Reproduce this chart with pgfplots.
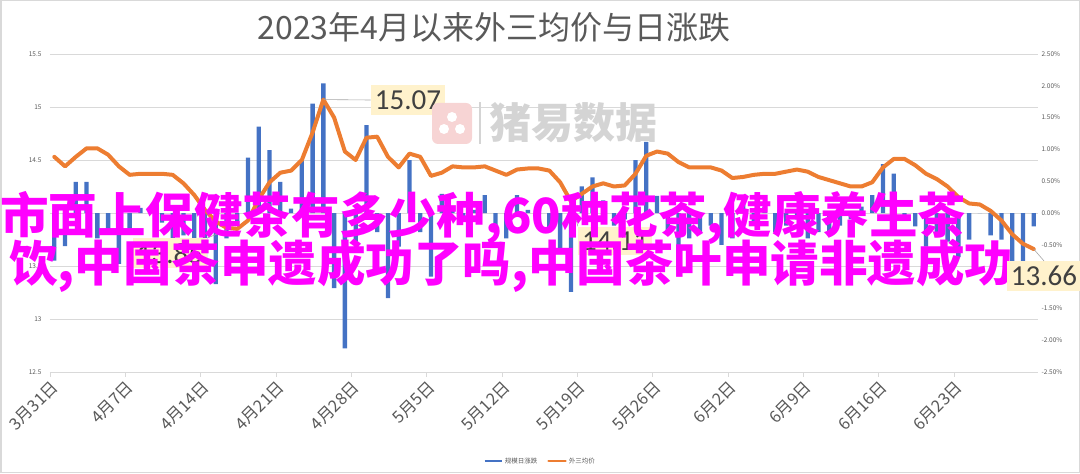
\documentclass[border=0pt]{standalone}
\usepackage{fontspec}
\usepackage{pgfplots}
\usepackage{pgfplotstable}
\pgfplotsset{compat=1.18}
\setmainfont{Noto Sans CJK SC}
\newfontfamily\numfont{Carlito}
\definecolor{barblue}{HTML}{4472C4}
\definecolor{lineorange}{HTML}{ED7D31}
\definecolor{gridgray}{HTML}{D9D9D9}
\definecolor{labelgray}{HTML}{595959}
\definecolor{boxfill}{HTML}{FFF2CC}
\definecolor{magentatxt}{HTML}{FF00FF}
\definecolor{wmgray}{HTML}{D4D4D4}
\definecolor{wmpink}{HTML}{F7D4D4}

\pgfplotstableread{
d v
0 14.53
1 14.44
2 14.53
3 14.61
4 14.61
5 14.55
6 14.44
7 14.36
8 14.37
9 14.37
10 14.37
11 14.36
12 14.28
13 14.17
14 14.03
15 13.92
16 13.86
17 13.85
18 13.93
19 14.13
20 14.29
21 14.38
22 14.40
23 14.50
24 14.76
25 15.07
26 14.90
27 14.58
28 14.50
29 14.71
30 14.72
31 14.53
32 14.43
33 14.56
34 14.53
35 14.35
36 14.38
37 14.44
38 14.43
39 14.43
40 14.44
41 14.40
42 14.36
43 14.41
44 14.42
45 14.42
46 14.40
47 14.29
48 14.11
49 14.18
50 14.25
51 14.28
52 14.25
53 14.26
54 14.37
55 14.54
56 14.58
57 14.56
58 14.48
59 14.43
60 14.43
61 14.43
62 14.40
63 14.33
64 14.34
65 14.36
66 14.37
67 14.37
68 14.39
69 14.41
70 14.39
71 14.34
72 14.31
73 14.28
74 14.25
75 14.25
76 14.29
77 14.43
78 14.51
79 14.51
80 14.45
81 14.37
82 14.32
83 14.25
84 14.15
85 14.09
86 14.08
87 14.02
88 13.93
89 13.80
90 13.71
91 13.66
}\pricetable

\pgfplotstableread{
d p
0 -0.75
1 -0.52
2 0.49
3 0.49
4 -0.40
5 -0.31
6 -0.80
7 -0.25
8 0.08
9 0.08
10 -0.15
11 -0.45
12 -0.35
13 -1.00
14 -0.80
15 -1.12
16 -0.40
17 -0.20
18 0.87
19 1.36
20 0.99
21 0.49
22 0.07
23 0.82
24 1.72
25 2.04
26 -1.18
27 -2.13
28 -0.47
29 1.38
30 -0.30
31 -1.34
32 -0.53
33 0.83
34 -0.30
35 -1.00
36 0.30
37 0.10
38 -0.10
39 0.05
40 0.28
41 -0.30
42 -0.40
43 0.28
44 0.05
45 -0.10
46 -0.30
47 -0.61
48 -1.24
49 0.42
50 0.56
51 0.20
52 -0.20
53 -0.10
54 0.83
55 1.12
56 0.27
57 -0.30
58 -0.90
59 -0.40
60 -0.30
61 -0.20
62 -0.50
63 -0.40
64 0.15
65 -0.20
66 0.10
67 -0.30
68 -0.20
69 -0.10
70 -0.40
71 -0.30
72 -0.35
73 -0.20
74 -0.10
75 0.10
76 0.28
77 0.77
78 0.62
79 -0.10
80 -0.21
81 -0.53
82 -0.30
83 -0.45
84 -0.69
85 -0.42
86 0.00
87 -0.35
88 -0.42
89 -0.85
90 -0.85
91 -0.21
}\changetable

\pgfplotsset{
  base/.style={at={(50pt,102pt)}, anchor=south west, scale only axis,
    width=988pt, height=318pt, xmin=-0.4, xmax=91.4, clip=false},
  smalltick/.style={font=\fontsize{6.5}{7}\selectfont, text=labelgray},
}
\tikzset{
  numlabel/.style={fill=boxfill, text=black!75, font=\numfont\fontsize{29}{32}\selectfont, inner xsep=4pt, inner ysep=5pt},
}

\begin{document}
\begin{tikzpicture}
\path[use as bounding box] (0,0) rectangle (1080pt,474pt);
\draw[gridgray, line width=1.5pt] (0.75pt,1.5pt) rectangle (1079.25pt,473.25pt);
\node[text=labelgray, font=\fontsize{32}{36}\selectfont, inner sep=0pt] at (494pt,447pt) {2023年4月以来外三均价与日涨跌};

% axis 1: grid, left ticks, x ticks
\begin{axis}[base, ymin=12.5, ymax=15.5,
  ytick={12.5,13,13.5,14,14.5,15,15.5},
  yticklabels={12.5,13,13.5,14,14.5,15,15.5},
  ymajorgrids, major grid style={gridgray, line width=0.8pt},
  axis x line*=bottom, axis y line*=left,
  x axis line style={gridgray, line width=0.8pt},
  y axis line style={draw=none},
  tick align=outside, major tick length=5pt,
  xtick style={gridgray, line width=0.8pt},
  ytick style={draw=none},
  yticklabel style={smalltick},
  xtick={-0.4,6.6,13.6,20.6,27.6,34.6,41.6,48.6,55.6,62.6,69.6,76.6,83.6},
  xticklabels={3月31日,4月7日,4月14日,4月21日,4月28日,5月5日,5月12日,5月19日,5月26日,6月2日,6月9日,6月16日,6月23日},
  xticklabel style={rotate=45, anchor=north east, font=\fontsize{16.5}{17}\selectfont, text=labelgray, inner sep=1.5pt},
]
\addplot[draw=none] coordinates {(0,14)};
\end{axis}

% axis 2: daily change bars, right axis
\begin{axis}[base, ymin=-2.5, ymax=2.5,
  axis y line*=right, axis x line=none,
  y axis line style={draw=none},
  ytick={-2.5,-2,-1.5,-1,-0.5,0,0.5,1,1.5,2,2.5},
  yticklabels={-2.50\%,-2.00\%,-1.50\%,-1.00\%,-0.50\%,0.00\%,0.50\%,1.00\%,1.50\%,2.00\%,2.50\%},
  ytick style={draw=none},
  yticklabel style={smalltick},
]
\addplot[ybar, bar width=0.4, fill=barblue, draw=none] table[x=d,y=p]{\changetable};
\end{axis}

% axis 3: price line
\begin{axis}[base, ymin=12.5, ymax=15.5, hide axis,
  legend columns=2,
  legend style={at={(0.496,-0.28)}, anchor=center, draw=none, fill=none,
    font=\fontsize{6.5}{7}\selectfont, text=labelgray,
    /tikz/every even column/.append style={column sep=8pt}},
  legend image code/.code={\draw[#1, line width=2.5pt] (0pt,0pt) -- (17pt,0pt);},
]
\addlegendimage{barblue}
\addlegendentry{规模日涨跌}
\addplot[lineorange, line width=4pt, line join=round, line cap=round] table[x=d,y=v]{\pricetable};
\addlegendentry{外三均价}

\node[numlabel] (l1) at (axis cs:32.86,15.066) {15.07};
\draw[gray!70, line width=0.6pt] (axis cs:25,15.07) -- (l1.west);
\node[numlabel] (l2) at (axis cs:10.75,13.62) {13.85};
\draw[gray!70, line width=0.6pt] (axis cs:16.5,13.86) -- (l2.north east);
\node[numlabel] (l3) at (axis cs:52.11,13.736) {14.11};
\draw[gray!70, line width=0.6pt] (axis cs:48,14.11) -- (l3.north west);
\end{axis}

% watermark
\fill[wmpink, rounded corners=6pt] (432pt,330pt) rectangle (472pt,371pt);
\fill[white] (444pt,345pt) circle (5pt);
\fill[white] (460pt,345pt) circle (5pt);
\fill[white] (452pt,357pt) circle (5pt);
\draw[wmgray, line width=1.2pt] (480pt,330pt) -- (480pt,372pt);
\node[text=wmgray, font=\fontsize{42}{46}\selectfont\bfseries, inner sep=0pt] at (573pt,351pt) {猪易数据};

% overlay text
\node[text=magentatxt, font=\fontsize{48.5}{52}\selectfont\bfseries, anchor=west, inner sep=0pt] at (0pt,256pt) {市面上保健茶有多少种,60种花茶,健康养生茶};
\node[text=magentatxt, font=\fontsize{48.5}{52}\selectfont\bfseries, anchor=west, inner sep=0pt] at (9pt,208pt) {饮,中国茶申遗成功了吗,中国茶叶申请非遗成功};

% last data label drawn on top
\begin{axis}[base, ymin=12.5, ymax=15.5, hide axis]
\addplot[draw=none] coordinates {(91,13.66)};
\node[numlabel] (l4) at (axis cs:91.95,13.406) {13.66};
\draw[gray!70, line width=0.6pt] (axis cs:91,13.66) -- (l4.north);
\end{axis}
\end{tikzpicture}
\end{document}
